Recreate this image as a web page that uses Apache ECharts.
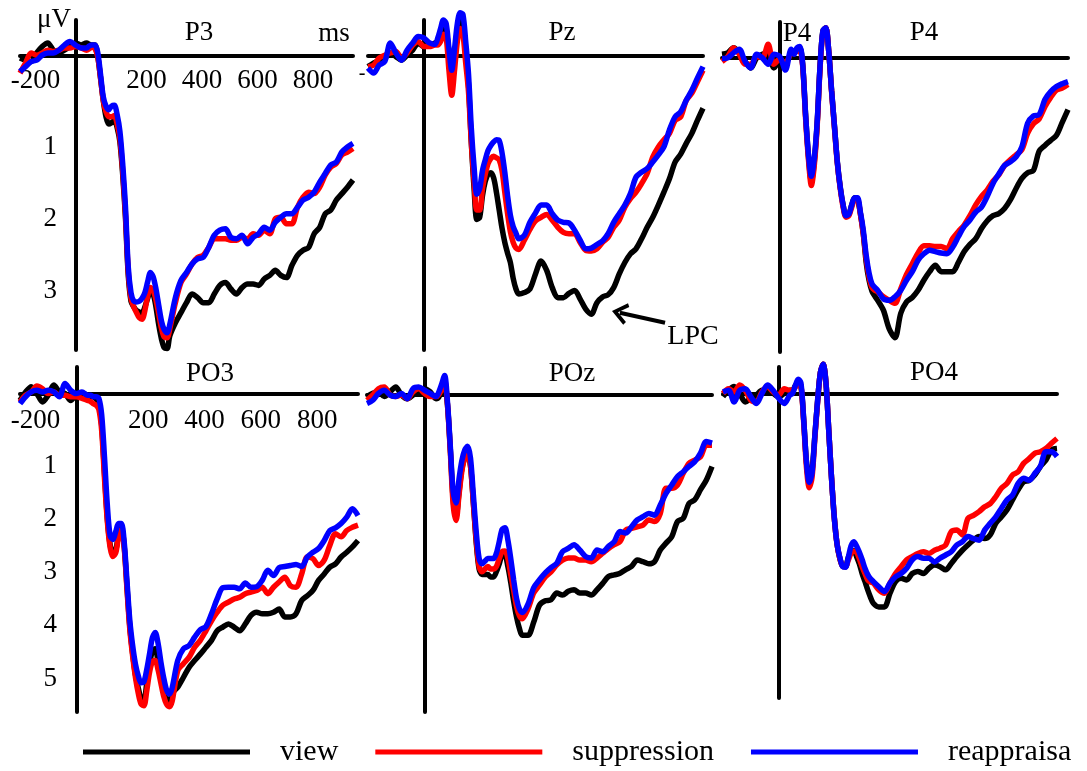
<!DOCTYPE html>
<html>
<head>
<meta charset="utf-8">
<title>ERP waveforms</title>
<script src="https://cdn.jsdelivr.net/npm/echarts@6/dist/echarts.min.js"></script>
<style>
  html, body { margin: 0; padding: 0; background: #fff; }
  #chart { width: 1087px; height: 771px; }
</style>
</head>
<body>
<div id="chart"></div>
<script>
// time in ms (finer around the early peaks), amplitude in microvolts, positive plotted downward
const times = [-200,-180,-160,-140,-120,-100,-80,-60,-40,-20,0,20,40,
  50,60,70,80,90,100,110,120,130,140,150,160,170,180,190,200,210,220,230,240,250,260,270,280,290,300,310,320,330,340,
  360,380,400,420,440,460,480,500,520,540,560,580,600,620,640,660,680,700,720,740,760,780,800,820,840,860,880,900,920,940,960,980,1000];

const p3View = [0.03,0.06,0.08,-0.04,-0.13,-0.18,-0.08,-0.04,-0.08,-0.13,-0.18,-0.15,-0.18,
  -0.16,-0.15,-0.15,0,0.3,0.62,0.85,0.95,0.93,0.9,1,1.2,1.65,2.25,3.05,3.42,3.5,3.55,3.57,3.58,3.5,3.38,3.28,3.32,3.5,3.75,3.95,4.07,4.08,3.9,
  3.72,3.58,3.44,3.32,3.37,3.44,3.44,3.32,3.2,3.16,3.25,3.32,3.23,3.18,3.18,3.2,3.11,3.06,2.99,3.06,3.09,2.92,2.78,2.71,2.67,2.48,2.39,2.2,2.15,2.01,1.92,1.83,1.73];
const p3Supp = [0.24,0.1,-0.04,-0.01,-0.04,-0.08,-0.06,-0.08,-0.11,-0.11,-0.13,-0.11,-0.08,
  -0.1,-0.13,-0.1,0.01,0.3,0.62,0.78,0.85,0.85,0.83,0.95,1.15,1.6,2.2,3,3.38,3.5,3.58,3.65,3.67,3.55,3.35,3.23,3.27,3.4,3.6,3.8,3.92,3.93,3.8,
  3.44,3.16,3.04,2.9,2.81,2.78,2.67,2.55,2.55,2.55,2.57,2.57,2.53,2.55,2.48,2.5,2.43,2.48,2.27,2.25,2.34,2.34,2.11,1.97,1.9,1.92,1.83,1.66,1.55,1.5,1.38,1.34,1.29];
const p3Reap = [0.22,0.15,0.08,0.06,-0.01,-0.04,-0.04,-0.08,-0.15,-0.2,-0.15,-0.11,-0.11,
  -0.14,-0.15,-0.15,-0.05,0.25,0.57,0.7,0.75,0.7,0.69,0.82,1.05,1.5,2.1,2.94,3.3,3.42,3.43,3.42,3.38,3.3,3.15,3.02,3.08,3.25,3.48,3.7,3.82,3.86,3.74,
  3.37,3.13,3.02,2.9,2.83,2.81,2.67,2.5,2.43,2.41,2.53,2.55,2.5,2.62,2.53,2.48,2.39,2.43,2.32,2.25,2.2,2.2,2.11,2.01,1.97,1.9,1.76,1.64,1.52,1.48,1.34,1.27,1.22];

const pzView = [0.15,0.1,0.06,0.03,-0.04,0.01,0.06,-0.01,-0.08,-0.18,-0.13,-0.15,-0.18,
  -0.2,-0.3,-0.4,-0.35,-0.05,0.25,0,-0.35,-0.5,-0.45,-0.05,0.4,1.2,1.85,2.28,2.25,1.95,1.75,1.65,1.63,1.7,1.9,2.15,2.4,2.6,2.75,2.88,3.1,3.25,3.32,
  3.3,3.25,3.04,2.86,2.99,3.23,3.37,3.37,3.31,3.27,3.39,3.53,3.6,3.44,3.36,3.33,3.23,3.04,2.88,2.76,2.69,2.55,2.39,2.25,2.08,1.9,1.71,1.48,1.37,1.22,1.08,0.9,0.73];
const pzSupp = [0.15,0.13,0.03,-0.01,-0.04,-0.06,0.03,-0.04,-0.15,-0.2,-0.13,-0.13,-0.15,
  -0.15,-0.2,-0.3,-0.25,0.2,0.55,0.2,-0.2,-0.38,-0.3,0.1,0.5,1.2,1.75,2.15,2.15,1.85,1.65,1.5,1.43,1.4,1.42,1.45,1.6,1.9,2.2,2.45,2.6,2.68,2.7,
  2.57,2.42,2.3,2.25,2.21,2.29,2.39,2.46,2.48,2.48,2.6,2.71,2.72,2.69,2.6,2.53,2.39,2.29,2.11,1.99,1.9,1.78,1.64,1.41,1.27,1.17,1.08,0.9,0.85,0.62,0.52,0.36,0.2];
const pzReap = [0.17,0.24,0.13,0.08,-0.18,-0.04,0.06,-0.08,-0.18,-0.27,-0.25,-0.18,-0.16,
  -0.25,-0.38,-0.5,-0.45,-0.1,0.2,-0.1,-0.45,-0.6,-0.58,-0.2,0.25,1,1.55,1.93,1.85,1.6,1.45,1.32,1.25,1.2,1.17,1.18,1.35,1.62,1.95,2.22,2.38,2.47,2.55,
  2.5,2.32,2.19,2.08,2.08,2.2,2.29,2.32,2.33,2.43,2.57,2.69,2.68,2.63,2.58,2.48,2.32,2.2,2.08,1.92,1.69,1.62,1.57,1.48,1.38,1.27,1.03,0.85,0.78,0.62,0.48,0.31,0.15];

const p4View = [-0.05,-0.07,-0.14,-0.07,0.05,0.14,0,-0.05,-0.07,0.14,0.05,0.05,-0.05,
  -0.08,-0.12,-0.14,0.1,0.8,1.38,1.72,1.45,0.92,0.12,-0.38,-0.42,-0.1,0.45,0.95,1.45,1.8,2.05,2.2,2.18,2.05,1.95,1.97,2.17,2.45,2.85,3.1,3.25,3.32,3.38,
  3.52,3.78,3.9,3.56,3.4,3.34,3.24,3.1,2.98,2.89,2.98,2.98,2.98,2.85,2.7,2.6,2.52,2.38,2.27,2.2,2.17,2.1,1.98,1.82,1.68,1.6,1.57,1.3,1.22,1.15,1.08,0.9,0.72];
const p4Supp = [0.05,-0.02,-0.14,-0.05,0.09,0.09,-0.02,0,-0.19,0.09,0.02,0.07,-0.07,
  -0.08,-0.09,-0.1,0.12,0.85,1.42,1.78,1.5,0.95,0.15,-0.36,-0.42,-0.1,0.47,0.97,1.47,1.82,2.08,2.22,2.2,2.08,1.98,1.98,2.18,2.45,2.8,3.05,3.2,3.24,3.26,
  3.33,3.38,3.42,3.22,3.02,2.87,2.72,2.62,2.62,2.63,2.63,2.66,2.52,2.42,2.33,2.2,2.05,1.93,1.84,1.72,1.63,1.5,1.42,1.35,1.28,1.05,0.92,0.85,0.68,0.55,0.45,0.42,0.37];
const p4Reap = [0.01,0,-0.07,-0.12,0.05,0.14,-0.05,0,0.09,-0.05,-0.02,0.17,-0.12,
  -0.05,-0.14,-0.16,0.1,0.8,1.35,1.65,1.4,0.9,0.12,-0.38,-0.42,-0.1,0.45,0.95,1.45,1.8,2.05,2.2,2.18,2.05,1.95,1.95,2.15,2.4,2.75,3,3.15,3.2,3.24,
  3.36,3.38,3.33,3.24,3.1,2.98,2.82,2.73,2.68,2.7,2.72,2.73,2.64,2.49,2.35,2.26,2.15,2.08,1.93,1.75,1.62,1.5,1.45,1.38,1.24,0.91,0.81,0.79,0.58,0.47,0.4,0.36,0.33];

const po3View = [0.13,-0.03,-0.13,0,0.16,0.03,-0.16,-0.03,0,0.13,0.03,0,0.03,
  0.05,0.06,0.1,0.19,0.6,1.5,2.35,2.85,3,2.95,2.65,2.52,2.88,3.65,4.4,4.9,5.3,5.55,5.75,5.78,5.45,5.1,4.85,4.81,5.05,5.35,5.6,5.78,5.8,5.65,
  5.53,5.35,5.16,5.03,4.91,4.78,4.65,4.47,4.4,4.34,4.4,4.47,4.34,4.18,4.12,4.15,4.15,4.12,4.06,4.21,4.21,4.15,3.9,3.81,3.71,3.52,3.4,3.27,3.21,3.08,2.99,2.89,2.77];
const po3Supp = [0.16,0.03,-0.03,-0.14,-0.09,0,-0.03,0.03,0.03,0.06,0.06,0.09,0.13,
  0.15,0.19,0.22,0.3,0.7,1.6,2.4,2.9,3.07,3,2.7,2.55,2.9,3.7,4.45,4.95,5.35,5.65,5.85,5.88,5.6,5.25,5.05,5.03,5.2,5.45,5.7,5.85,5.9,5.8,
  5.22,5.09,4.97,4.78,4.65,4.47,4.28,4.12,3.99,3.93,3.87,3.84,3.77,3.74,3.71,3.65,3.77,3.65,3.55,3.46,3.62,3.65,3.4,3.08,3.11,3.24,3.14,2.86,2.64,2.7,2.58,2.52,2.48];
const po3Reap = [0.19,0.06,-0.03,-0.06,-0.03,-0.06,-0.03,0.06,-0.19,-0.06,0,-0.03,0.03,
  0.03,0.06,0.06,0.09,0.4,1.2,2.1,2.68,2.75,2.6,2.45,2.45,2.8,3.55,4.28,4.75,5.1,5.32,5.45,5.43,5.2,4.9,4.6,4.5,4.7,5.05,5.35,5.58,5.66,5.55,
  5.03,4.81,4.75,4.59,4.45,4.39,4.15,3.87,3.66,3.65,3.65,3.68,3.57,3.65,3.64,3.52,3.33,3.43,3.28,3.26,3.24,3.22,3.26,3.08,2.99,2.92,2.77,2.58,2.53,2.45,2.33,2.17,2.3];

const pozView = [0.04,-0.02,-0.05,0.04,-0.05,-0.14,0.01,0.08,0.01,-0.08,-0.11,-0.05,0.08,
  0.05,-0.1,-0.2,0.2,1.05,2,2.3,1.85,1.4,1.2,1.12,1.35,2.05,2.8,3.3,3.4,3.4,3.4,3.45,3.45,3.35,3.2,3.05,3.05,3.25,3.55,3.9,4.2,4.42,4.55,
  4.55,4.3,3.98,3.9,3.88,3.75,3.79,3.72,3.69,3.75,3.75,3.79,3.69,3.57,3.44,3.41,3.38,3.31,3.25,3.13,3.16,3.2,3.16,2.94,2.81,2.69,2.4,2.34,2.06,1.99,1.8,1.62,1.36];
const pozSupp = [0.11,0.01,-0.11,-0.14,0.01,0.04,0.01,0.08,-0.05,-0.11,-0.02,0.04,0.04,
  0,-0.1,-0.25,0.2,1.1,2.1,2.38,1.9,1.45,1.2,1.13,1.35,2.05,2.75,3.25,3.35,3.3,3.25,3.3,3.3,3.25,3.1,2.97,2.96,3.1,3.4,3.7,4,4.18,4.24,
  4.05,3.75,3.6,3.45,3.35,3.22,3.13,3.09,3.09,3.13,3.13,3.16,3.09,3,2.91,2.84,2.78,2.56,2.53,2.5,2.47,2.37,2.4,2.25,1.77,1.77,1.71,1.49,1.3,1.24,1.18,0.96,0.96];
const pozReap = [0.17,0.11,-0.02,-0.08,0.01,0.04,-0.02,0.08,-0.11,-0.14,-0.08,-0.02,0.04,
  -0.05,-0.2,-0.36,0.15,1,1.85,2.05,1.6,1.25,1.05,0.98,1.2,1.9,2.6,3.1,3.2,3.15,3.1,3.1,3.1,3,2.78,2.55,2.52,2.75,3.1,3.5,3.85,4.05,4.12,
  3.96,3.65,3.5,3.37,3.27,3.19,2.97,2.91,2.84,2.94,3.06,3.09,2.94,2.97,2.87,2.78,2.59,2.62,2.5,2.37,2.31,2.25,2.28,2.09,1.87,1.71,1.55,1.46,1.36,1.27,1.11,0.89,0.92];

const po4View = [0.06,-0.06,-0.13,0,0.16,0.09,0.03,-0.06,-0.03,0,0.06,0,-0.06,
  -0.06,-0.15,-0.2,-0.15,0.5,1.3,1.65,1.45,0.8,0.13,-0.4,-0.55,-0.2,0.7,1.6,2.35,2.85,3.12,3.26,3.27,3.1,2.99,2.97,3.08,3.22,3.4,3.55,3.71,3.85,3.96,
  4.03,4.03,3.77,3.55,3.49,3.52,3.4,3.36,3.4,3.3,3.24,3.27,3.33,3.21,3.08,2.96,2.86,2.77,2.7,2.74,2.67,2.45,2.33,2.2,2.01,1.82,1.67,1.64,1.54,1.38,1.26,1.07,1.04];
const po4Supp = [0,-0.09,-0.03,-0.16,-0.06,0.13,0.16,-0.03,-0.13,-0.03,0.03,-0.09,-0.06,
  -0.06,-0.12,-0.2,-0.15,0.55,1.4,1.78,1.58,0.85,0.15,-0.4,-0.55,-0.2,0.7,1.6,2.35,2.85,3.12,3.26,3.27,3.15,3.02,2.98,3,3.12,3.27,3.4,3.52,3.56,3.58,
  3.71,3.77,3.58,3.4,3.27,3.14,3.08,3.02,2.99,3.02,2.96,2.92,2.86,2.61,2.58,2.67,2.36,2.3,2.23,2.14,2.08,1.95,1.79,1.7,1.54,1.48,1.32,1.23,1.13,1.1,1.04,0.94,0.85];
const po4Reap = [-0.03,-0.06,0.16,-0.06,-0.09,0.06,0.19,0,-0.16,-0.06,0.09,0.19,0.03,
  0,-0.15,-0.27,-0.2,0.5,1.3,1.68,1.5,0.8,0.13,-0.4,-0.55,-0.2,0.7,1.6,2.35,2.85,3.1,3.27,3.28,3.1,2.88,2.8,2.88,3,3.14,3.3,3.42,3.5,3.55,
  3.65,3.74,3.58,3.46,3.4,3.3,3.14,3.08,3.11,3.11,3.18,3.11,3.05,2.99,2.86,2.8,2.7,2.74,2.77,2.58,2.45,2.33,2.17,2.01,1.92,1.7,1.6,1.64,1.51,1.38,1.1,1.1,1.19];

const conditions = ['view', 'suppression', 'reappraisa'];
const timeTicks = [-200, 200, 400, 600, 800];
const voltTop = [1, 2, 3];
const voltBottom = [1, 2, 3, 4, 5];

const panels = [
  { name: 'P3',  traces: [p3View, p3Supp, p3Reap] },
  { name: 'Pz',  traces: [pzView, pzSupp, pzReap] },
  { name: 'P4',  traces: [p4View, p4Supp, p4Reap] },
  { name: 'PO3', traces: [po3View, po3Supp, po3Reap] },
  { name: 'POz', traces: [pozView, pozSupp, pozReap] },
  { name: 'PO4', traces: [po4View, po4Supp, po4Reap] }
];

// pixel box of each small plot; labels sit on the zero lines, hence the negative margins
const boxes = [
  { left: 20,  top: 20,  width: 333, height: 330, max: 4.1,  ticks: voltTop,    xMargin: -283, titleX: 199, titleY: 33 },
  { left: 368, top: 20,  width: 335, height: 330, max: 4.1,  ticks: null,       titleX: 562, titleY: 33 },
  { left: 722, top: 22,  width: 346, height: 330, max: 4.1,  ticks: null,       titleX: 924, titleY: 33 },
  { left: 20,  top: 367, width: 338, height: 345, max: 6,    ticks: voltBottom, xMargin: -305, titleX: 210, titleY: 374 },
  { left: 367, top: 368, width: 345, height: 344, max: 6,    ticks: null,       titleX: 572, titleY: 374 },
  { left: 723, top: 367, width: 334, height: 331, max: 5.75, ticks: null,       titleX: 934, titleY: 373 }
];

const colors = ['#000000', '#ff0000', '#0000ff'];
const serif = '"Liberation Serif", "Times New Roman", serif';
const axisLine = { onZero: true, lineStyle: { color: '#000', width: 4 } };

const chart = echarts.init(document.getElementById('chart'));

const grid = boxes.map(b => ({
  left: b.left, top: b.top, width: b.width, height: b.height,
  containLabel: false, outerBoundsMode: 'none'
}));

const xAxis = boxes.map((b, i) => ({
  gridIndex: i,
  type: 'value',
  min: -200,
  max: 1000,
  axisLine: axisLine,
  axisTick: { show: false },
  splitLine: { show: false },
  axisLabel: b.ticks ? {
    customValues: timeTicks,
    color: '#000',
    fontFamily: serif,
    fontSize: 27,
    margin: b.xMargin,
    padding: [0, 0, 0, 31]
  } : { show: false }
}));

const yAxis = boxes.map((b, i) => ({
  gridIndex: i,
  type: 'value',
  inverse: true,
  min: -0.5,
  max: b.max,
  axisLine: axisLine,
  axisTick: { show: false },
  splitLine: { show: false },
  axisLabel: b.ticks ? {
    customValues: b.ticks,
    color: '#000',
    fontFamily: serif,
    fontSize: 27,
    margin: -37,
    verticalAlign: 'top',
    padding: [6, 0, 0, 0]
  } : { show: false }
}));

const arrowHead = 'path://M5,0 L10,8.2 L8.5,9.4 L5,3.6 L1.5,9.4 L0,8.2 Z';

const series = [];
panels.forEach((p, i) => {
  p.traces.forEach((vals, k) => {
    const s = {
      name: conditions[k],
      type: 'line',
      xAxisIndex: i,
      yAxisIndex: i,
      data: times.map((t, j) => [t, vals[j]]),
      showSymbol: false,
      smooth: 0.3,
      clip: false,
      color: colors[k],
      lineStyle: { color: colors[k], width: 5.5 }
    };
    if (p.name === 'Pz' && k === 0) {
      s.markLine = {
        silent: true,
        animation: false,
        label: { show: false },
        lineStyle: { color: '#000', width: 4, type: 'solid' },
        data: [[
          { coord: [702, 3.58], symbol: arrowHead, symbolSize: [22, 16] },
          { coord: [864, 3.72], symbol: 'none' }
        ]]
      };
    }
    series.push(s);
  });
});

const txt = (text, x, y, size) => ({
  type: 'text',
  x: x,
  y: y,
  style: {
    text: text,
    font: size + 'px ' + serif,
    fill: '#000',
    align: 'center',
    verticalAlign: 'middle'
  }
});

const graphic = boxes.map((b, i) => txt(panels[i].name, b.titleX, b.titleY, 27));
graphic.push(txt('\u03bcV', 54, 20, 27));
graphic.push(txt('ms', 334, 34, 27));
graphic.push(txt('P4', 797, 34, 27));
graphic.push(txt('LPC', 693, 337, 28));
graphic.push(txt('-', 362, 74, 20));

chart.setOption({
  animation: false,
  backgroundColor: '#fff',
  grid: grid,
  xAxis: xAxis,
  yAxis: yAxis,
  legend: {
    data: conditions,
    left: 83,
    top: 737,
    padding: 0,
    icon: 'rect',
    itemWidth: 167,
    itemHeight: 5,
    itemGap: 37,
    selectedMode: false,
    textStyle: { color: '#000', fontFamily: serif, fontSize: 30, padding: [0, 0, 0, 25] }
  },
  graphic: graphic,
  series: series
});
</script>
</body>
</html>
